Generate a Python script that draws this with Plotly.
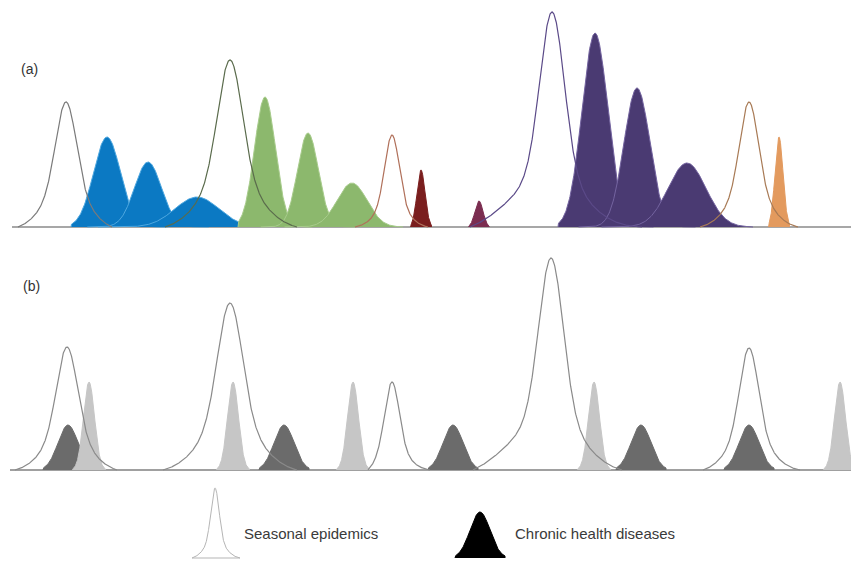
import numpy as np
import plotly.graph_objects as go

# ---------------- data (schematic peak parameters, pixel-like units) ----------------
# Panel (a): seasonal epidemics (outlined)
sea_a_center = [66, 230, 392, 552, 749]
sea_a_height = [125, 167, 92, 215, 125]
sea_a_core = [10, 12, 7, 12, 9]          # width of the peak
sea_a_skirt_l = [22, 28, 15, 40, 20]     # width of the left shoulder
sea_a_skirt_r = [22, 28, 15, 30, 20]     # width of the right shoulder
sea_a_skirt_w = [0.3, 0.3, 0.25, 0.25, 0.3]
sea_a_left = [18, 165, 355, 470, 700]
sea_a_right = [112, 297, 428, 642, 798]

# Panel (a): chronic health diseases (filled groups)
blue_center = [107, 148, 197]
blue_height = [90, 65, 30]
blue_sigma = [13.5, 13.5, 22]
blue_clip = [71, 239]

green_center = [265, 308, 352]
green_height = [130, 94, 44]
green_sigma = [10.5, 10.5, 15]
green_clip = [238, 403]

purple_center = [595, 637, 687]
purple_height = [194, 139, 64]
purple_sigma = [13, 13, 19]
purple_clip = [558, 753]

single_center = [421, 479, 779]
single_height = [57, 26, 90]
single_sigma = [4, 4, 4]

# Panel (b)
sea_b_center = [67, 230, 392, 551, 749]
sea_b_height = [123, 167, 88, 212, 122]
sea_b_core = [10, 12, 7, 12, 9]
sea_b_skirt_l = [22, 28, 15, 40, 20]
sea_b_skirt_r = [22, 28, 15, 30, 20]
sea_b_skirt_w = [0.3, 0.3, 0.25, 0.25, 0.3]
sea_b_left = [15, 163, 368, 473, 703]
sea_b_right = [117, 297, 430, 622, 800]

dark_center = [68, 284, 453, 641, 749]
dark_height = [45, 45, 45, 45, 45]
light_center = [89, 233, 353, 594, 840]
light_height = [88, 88, 88, 88, 88]

legend_labels = ["Seasonal epidemics", "Chronic health diseases"]
panel_labels = ["(a)", "(b)"]

# ---------------- layout constants ----------------
PAGE_W, PAGE_H = 859, 563
OFF = 8                      # default body margin of the html page
W, H = PAGE_W - OFF, PAGE_H - OFF
YA = PAGE_H - 227   # baseline of panel (a)
YB = PAGE_H - 470   # baseline of panel (b)
YL = PAGE_H - 558   # baseline of legend icons


def seasonal(c, h, s, sl, sr, w, left, right, base):
    x = np.linspace(left, right, 500)
    d = x - c
    L = np.where(d < 0, c - left, right - c)
    S = np.where(d < 0, sl, sr)
    edge = np.exp(-L ** 2 / (2 * S ** 2))
    skirt = (np.exp(-d ** 2 / (2 * S ** 2)) - edge) / (1 - edge)
    core = np.exp(-d ** 2 / (2 * s ** 2))
    y = h * ((1 - w) * core + w * skirt)
    return x, base + y


def chronic(c, h, s, base, lo=None, hi=None, k=3.2):
    a = c - k * s
    b = c + k * s
    if lo is not None:
        a = max(a, lo)
    if hi is not None:
        b = min(b, hi)
    x = np.linspace(a, b, 200)
    y = h * np.exp(-(x - c) ** 2 / (2 * s ** 2))
    xs = np.concatenate([[a], x, [b]])
    ys = np.concatenate([[base], base + y, [base]])
    return xs, ys


fig = go.Figure()


def add_fill(x, y, fill, line, lw=1):
    fig.add_trace(go.Scatter(x=x, y=y, mode="lines", fill="toself", fillcolor=fill,
                             line=dict(color=line, width=lw), hoverinfo="skip", showlegend=False))


def add_line(x, y, color, lw=1):
    fig.add_trace(go.Scatter(x=x, y=y, mode="lines", line=dict(color=color, width=lw),
                             hoverinfo="skip", showlegend=False))


# ---- panel (a) fills ----
for cs, hs, ss, clip, fc, lc in [
    (blue_center, blue_height, blue_sigma, blue_clip, "#0b79c3", "#4fa8e0"),
    (green_center, green_height, green_sigma, green_clip, "#8cb86d", "#a8cc8c"),
    (purple_center, purple_height, purple_sigma, purple_clip, "#4a3a72", "#7464a0"),
]:
    for c, h, s in zip(cs, hs, ss):
        x, y = chronic(c, h, s, YA, clip[0], clip[1], k=4.5)
        add_fill(x, y, fc, lc, 1)

single_fill = ["#7a1e1e", "#7b2d50", "#e39a5e"]
for c, h, s, fc in zip(single_center, single_height, single_sigma, single_fill):
    x, y = chronic(c, h, s, YA, k=2.6)
    add_fill(x, y, fc, fc, 1)

# ---- panel (a) seasonal outlines ----
sea_a_color = ["#7a7a7a", "#5a6b4c", "#b0705a", "#5b4a88", "#a87a55"]
for i in range(len(sea_a_center)):
    x, y = seasonal(sea_a_center[i], sea_a_height[i], sea_a_core[i], sea_a_skirt_l[i],
                    sea_a_skirt_r[i], sea_a_skirt_w[i], sea_a_left[i], sea_a_right[i], YA)
    add_line(x, y, sea_a_color[i], 1.2)

# ---- panel (b) fills ----
for c, h in zip(dark_center, dark_height):
    x, y = chronic(c, h, 10, YB, k=2.5)
    add_fill(x, y, "#6b6b6b", "#6b6b6b", 1)
for c, h in zip(light_center, light_height):
    x, y = chronic(c, h, 5.5, YB, k=3.0)
    add_fill(x, y, "#c6c6c6", "#c6c6c6", 1)

# ---- panel (b) seasonal outlines ----
for i in range(len(sea_b_center)):
    x, y = seasonal(sea_b_center[i], sea_b_height[i], sea_b_core[i], sea_b_skirt_l[i],
                    sea_b_skirt_r[i], sea_b_skirt_w[i], sea_b_left[i], sea_b_right[i], YB)
    add_line(x, y, "#8a8a8a", 1.2)

# ---- legend icons ----
x, y = seasonal(215, 70, 4, 10, 10, 0.25, 192, 240, YL)
add_line(x, y, "#b5b5b5", 1)
add_line([192, 240], [YL, YL], "#b5b5b5", 1)
x, y = chronic(480, 46, 10, YL, k=2.5)
add_fill(x, y, "#000000", "#000000", 1)

# ---- baselines ----
shapes = [
    dict(type="line", x0=12, x1=PAGE_W, y0=YA, y1=YA, xref="x", yref="y",
         line=dict(color="#8a8a8a", width=1.5), layer="below"),
    dict(type="line", x0=10, x1=PAGE_W, y0=YB, y1=YB, xref="x", yref="y",
         line=dict(color="#a0a0a0", width=2), layer="below"),
]

annotations = [
    dict(x=29, y=PAGE_H - 69, text=panel_labels[0], showarrow=False, xref="x", yref="y",
         font=dict(family="Liberation Sans", size=14, color="#333333")),
    dict(x=31, y=PAGE_H - 286, text=panel_labels[1], showarrow=False, xref="x", yref="y",
         font=dict(family="Liberation Sans", size=14, color="#333333")),
    dict(x=242, y=PAGE_H - 533, text=legend_labels[0], showarrow=False, xref="x", yref="y",
         xanchor="left", font=dict(family="Liberation Sans", size=15, color="#3a3a3a")),
    dict(x=513, y=PAGE_H - 533, text=legend_labels[1], showarrow=False, xref="x", yref="y",
         xanchor="left", font=dict(family="Liberation Sans", size=15, color="#3a3a3a")),
]

fig.update_layout(
    width=W, height=H,
    margin=dict(l=0, r=0, t=0, b=0),
    paper_bgcolor="white", plot_bgcolor="white",
    xaxis=dict(range=[OFF, PAGE_W], visible=False, fixedrange=True),
    yaxis=dict(range=[0, H], visible=False, fixedrange=True),
    shapes=shapes, annotations=annotations, showlegend=False,
)

fig.write_html("out.html")
